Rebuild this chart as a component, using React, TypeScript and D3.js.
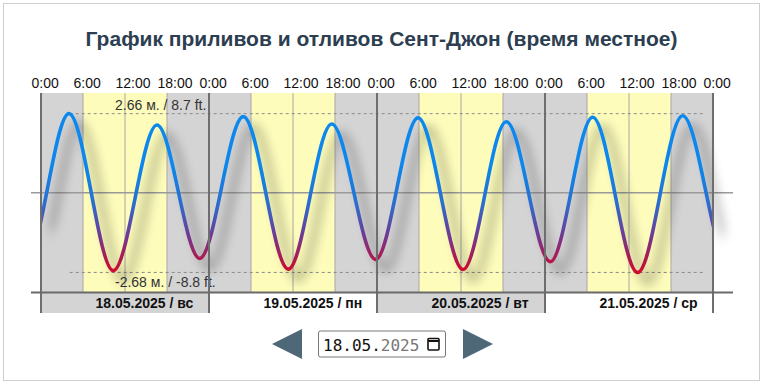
import React from "react";
import * as d3 from "d3";

// ---- data ----
const title = "График приливов и отливов Сент-Джон (время местное)";
const days = ["18.05.2025 / вс", "19.05.2025 / пн", "20.05.2025 / вт", "21.05.2025 / ср"];
const hourTicks = [0, 6, 12, 18];
const hourTickLabels = ["0:00", "6:00", "12:00", "18:00"];
// tide extremes: hours from 18.05 0:00, heights in metres
const tideHours = [-8.2, -2.0, 4.0, 10.33, 16.57, 22.67, 28.9, 35.33, 41.53, 47.81, 53.86, 60.29, 66.47, 72.76, 78.81, 85.24, 91.67, 98.1, 104.4];
const tideHeights = [2.3, -2.2, 2.66, -2.62, 2.28, -2.21, 2.56, -2.57, 2.31, -2.24, 2.52, -2.58, 2.39, -2.32, 2.54, -2.68, 2.59, -2.3, 2.4];
const sunriseHour = 6;
const sunsetHour = 18;
const maxLabel = "2.66 м. / 8.7 ft.";
const minLabel = "-2.68 м. / -8.8 ft.";
const maxHeight = 2.66;
const minHeight = -2.68;
const inputDay = "18.05.";
const inputYear = "2025";

const W = 763;
const H = 383;
const L = 41, R = 713, T = 93, B = 292.5;

export default function App() {
  const nDays = days.length;
  const x = d3.scaleLinear().domain([0, nDays * 24]).range([L, R]);
  const y = d3.scaleLinear().domain([-3.355, 3.355]).range([B, T]);
  const pts = tideHours.map((h, i) => [h, tideHeights[i]] as [number, number]);
  const line = d3
    .line<[number, number]>()
    .x((d) => x(d[0]))
    .y((d) => y(d[1]))
    .curve(d3.curveMonotoneX);
  const font = "'Liberation Sans', Arial, sans-serif";

  const dayIdx = d3.range(nDays);
  const allTicks: { h: number; label: string }[] = [];
  dayIdx.forEach((di) => hourTicks.forEach((t, j) => allTicks.push({ h: di * 24 + t, label: hourTickLabels[j] })));
  allTicks.push({ h: nDays * 24, label: hourTickLabels[0] });

  return (
    <svg width={W} height={H} style={{ position: "absolute", left: 0, top: 0 }} fontFamily={font}>
      <defs>
        <clipPath id="plotClip">
          <rect x={L} y={T - 10} width={R - L} height={B - T + 20} />
        </clipPath>
        <filter id="shadow" filterUnits="userSpaceOnUse" x={0} y={0} width={W} height={H}>
          <feGaussianBlur in="SourceAlpha" stdDeviation={5.5} />
          <feOffset dx={10} dy={10} result="off" />
          <feComponentTransfer>
            <feFuncA type="linear" slope={0.5} />
          </feComponentTransfer>
          <feMerge>
            <feMergeNode />
            <feMergeNode in="SourceGraphic" />
          </feMerge>
        </filter>
        <linearGradient id="tideGrad" gradientUnits="userSpaceOnUse" x1={0} x2={0} y1={y(0.9)} y2={y(-2.6)}>
          <stop offset="0" stopColor="#0b87ec" />
          <stop offset="0.35" stopColor="#2a6fd0" />
          <stop offset="0.65" stopColor="#6a3d98" />
          <stop offset="1" stopColor="#cc0a30" />
        </linearGradient>
      </defs>

      <rect x={3.5} y={3.5} width={756} height={377} fill="#fff" stroke="#cfcfcf" />

      <text x={W / 2} y={46} textAnchor="middle" fontSize={21} fontWeight="bold" fill="#2c3e50">
        {title}
      </text>

      {allTicks.map((t, i) => (
        <text key={i} x={x(t.h) - 9.5} y={88} fontSize={14} fill="#111">
          {t.label}
        </text>
      ))}

      {/* background shading */}
      <rect x={L} y={T} width={R - L} height={B - T} fill="#d4d4d4" />
      {dayIdx.map((di) => (
        <rect key={di} x={x(di * 24 + sunriseHour)} y={T} width={x(di * 24 + sunsetHour) - x(di * 24 + sunriseHour)} height={B - T} fill="#fdfcbb" />
      ))}

      {/* grid */}
      {allTicks
        .filter((t) => t.h % 24 !== 0)
        .map((t, i) => (
          <line key={i} x1={x(t.h)} x2={x(t.h)} y1={T} y2={B} stroke="#a8a8a8" strokeWidth={1} />
        ))}
      <line x1={31} x2={733} y1={y(0)} y2={y(0)} stroke="#9a9a9a" strokeWidth={1.5} />
      <line x1={x(4.1)} x2={R - 10} y1={y(maxHeight)} y2={y(maxHeight)} stroke="#8a8a8a" strokeDasharray="3,3" />
      <line x1={x(4.1)} x2={R - 10} y1={y(minHeight)} y2={y(minHeight)} stroke="#8a8a8a" strokeDasharray="3,3" />

      {/* curve */}
      <g filter="url(#shadow)">
        <path d={line(pts) || ""} clipPath="url(#plotClip)" fill="none" stroke="url(#tideGrad)" strokeWidth={3.6} />
      </g>

      <text x={115} y={110} fontSize={14} fill="#333">{maxLabel}</text>
      <text x={115} y={287} fontSize={14} fill="#333">{minLabel}</text>

      {/* date row */}
      {dayIdx.map((di) =>
        di % 2 === 0 ? <rect key={di} x={x(di * 24)} y={B} width={x(24) - x(0)} height={313 - B} fill="#d4d4d4" /> : null
      )}
      {dayIdx.map((di) => (
        <text key={di} x={x(di * 24) + 54.5} y={308} fontSize={14} fontWeight="bold" fill="#111">
          {days[di]}
        </text>
      ))}
      {d3.range(nDays + 1).map((di) => (
        <line key={di} x1={x(di * 24)} x2={x(di * 24)} y1={T} y2={313} stroke="#6e6e6e" strokeWidth={2} />
      ))}
      <line x1={31} x2={733} y1={B} y2={B} stroke="#6a6a6a" strokeWidth={2} />

      {/* controls */}
      <path d="M272,344 L302,329 L302,359 Z" fill="#4e6878" />
      <path d="M493,344 L463,329 L463,359 Z" fill="#4e6878" />
      <rect x={318.5} y={331} width={127} height={26} rx={2} fill="#fff" stroke="#767676" />
      <text x={323} y={351} fontSize={16} fontFamily="'DejaVu Sans Mono', monospace">
        <tspan fill="#111">{inputDay}</tspan>
        <tspan fill="#777">{inputYear}</tspan>
      </text>
      <rect x={428} y={338.5} width={11} height={11.5} rx={1} fill="none" stroke="#111" strokeWidth={1.6} />
      <line x1={428} x2={439} y1={341} y2={341} stroke="#111" strokeWidth={2} />
    </svg>
  );
}
